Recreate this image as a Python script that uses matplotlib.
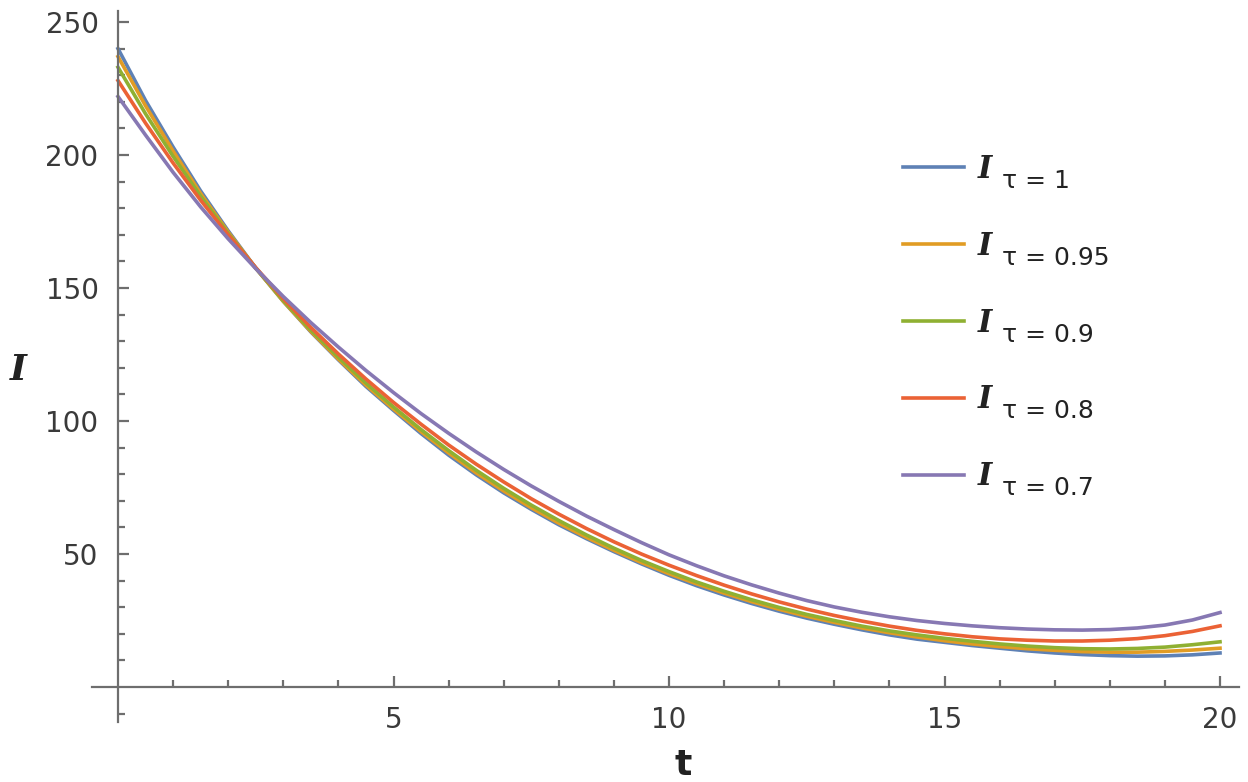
import matplotlib
matplotlib.use("Agg")
import matplotlib.pyplot as plt
from matplotlib.ticker import FixedLocator

t = [i * 0.5 for i in range(41)]

I_tau_1 = [240, 220.5, 203, 186.5, 171.5, 157.5, 145, 133.5, 123, 113, 104,
           95.3, 87.2, 79.8, 73, 66.8, 61, 55.8, 50.9, 46.3, 42,
           38.1, 34.6, 31.4, 28.5, 25.9, 23.6, 21.5, 19.6, 18.0, 16.8,
           15.6, 14.6, 13.6, 12.8, 12.2, 11.8, 11.6, 11.7, 12.1, 12.8]
I_tau_095 = [237, 218.5, 201.5, 185.5, 171, 157.5, 145, 133.7, 123.3, 113.5, 104.5,
             96, 88, 80.5, 73.7, 67.4, 61.6, 56.3, 51.4, 46.8, 42.6,
             38.8, 35.3, 32.1, 29.2, 26.6, 24.3, 22.2, 20.4, 18.8, 17.4,
             16.2, 15.2, 14.4, 13.8, 13.3, 13.1, 13.1, 13.4, 13.9, 14.6]
I_tau_09 = [233, 215.5, 199.5, 184.5, 170.5, 157.5, 145.3, 134.2, 124, 114.3, 105.3,
            96.8, 88.9, 81.5, 74.7, 68.4, 62.6, 57.2, 52.2, 47.6, 43.4,
            39.5, 36, 32.8, 29.9, 27.3, 25, 22.9, 21.1, 19.6, 18.3,
            17.2, 16.2, 15.4, 14.8, 14.4, 14.3, 14.5, 15.0, 15.9, 17.0]
I_tau_08 = [228, 212, 197, 183, 170, 157.7, 146, 135.2, 125.2, 115.8, 107,
            98.8, 91, 83.8, 77.1, 70.8, 65, 59.6, 54.6, 50, 45.8,
            41.9, 38.3, 35, 32, 29.3, 26.9, 24.8, 22.9, 21.3, 20.0,
            18.9, 18.1, 17.6, 17.3, 17.3, 17.6, 18.2, 19.3, 20.9, 23.0]
I_tau_07 = [222, 207.5, 193.5, 180.5, 168.5, 157.3, 146.8, 137, 127.8, 119, 110.7,
            102.8, 95.4, 88.4, 81.8, 75.6, 69.8, 64.3, 59.2, 54.3, 49.7,
            45.6, 41.8, 38.4, 35.3, 32.5, 30.1, 28.1, 26.4, 25.0, 23.9,
            23.0, 22.3, 21.8, 21.5, 21.4, 21.6, 22.2, 23.3, 25.2, 28.0]

colors = ['#5E81B5', '#E19C24', '#8FB032', '#EB6235', '#8778B3']
subscripts = ['τ = 1', 'τ = 0.95', 'τ = 0.9', 'τ = 0.8', 'τ = 0.7']
data = [I_tau_1, I_tau_095, I_tau_09, I_tau_08, I_tau_07]

W, H = 1248, 782
fig = plt.figure(figsize=(W / 100, H / 100), dpi=100)
ax = fig.add_axes([92.1 / W, 60.4 / H, 1147.2 / W, 710.2 / H])
ax.set_xlim(-0.47, 20.35)
ax.set_ylim(-13, 254)

for vals, col in zip(data, colors):
    ax.plot(t, vals, color=col, lw=2.6, label='I', solid_joinstyle='round')

for s in ['top', 'right']:
    ax.spines[s].set_visible(False)
ax.spines['left'].set_position(('data', 0))
ax.spines['bottom'].set_position(('data', 0))
for s in ['left', 'bottom']:
    ax.spines[s].set_color('#6e6e6e')
    ax.spines[s].set_linewidth(1.6)

ax.xaxis.set_major_locator(FixedLocator([5, 10, 15, 20]))
ax.xaxis.set_minor_locator(FixedLocator([i for i in range(1, 20) if i % 5 != 0]))
ax.yaxis.set_major_locator(FixedLocator([50, 100, 150, 200, 250]))
ax.yaxis.set_minor_locator(FixedLocator([v for v in range(-10, 250, 10) if v % 50 != 0]))

ax.tick_params(axis='both', which='both', direction='in', color='#6e6e6e', width=1.6,
               labelsize=20, labelcolor='#3a3a3a')
ax.tick_params(axis='both', which='major', length=8)
ax.tick_params(axis='both', which='minor', length=5)
ax.tick_params(axis='x', which='major', pad=14)
ax.tick_params(axis='y', which='major', pad=14)

fig.text(683 / W, 1 - 765 / H, 't', fontsize=26, ha='center', va='center', color='#222222',
         family='DejaVu Sans', fontweight='semibold')
fig.text(18 / W, 1 - 370 / H, 'I', fontsize=26, ha='center', va='center', color='#222222',
         style='italic', family='DejaVu Serif', fontweight='bold')

leg = ax.legend(loc='upper left', bbox_to_anchor=(903 / W, 1 - 154 / H),
                bbox_transform=fig.transFigure, frameon=False,
                prop={'family': 'DejaVu Serif', 'style': 'italic', 'size': 22,
                      'weight': 'bold'},
                handlelength=2.0, handletextpad=0.45, labelspacing=1.50, borderpad=0.0,
                borderaxespad=0.0)
for txt in leg.get_texts():
    txt.set_color('#222222')

fig.canvas.draw()
for txt, sub in zip(leg.get_texts(), subscripts):
    bb = txt.get_window_extent()
    fig.text((bb.x1 + 10) / W, (bb.y0 - 3) / H, sub, fontsize=18, ha='left', va='baseline',
             color='#222222', family='DejaVu Sans')

fig.savefig('out.png', dpi=100)
